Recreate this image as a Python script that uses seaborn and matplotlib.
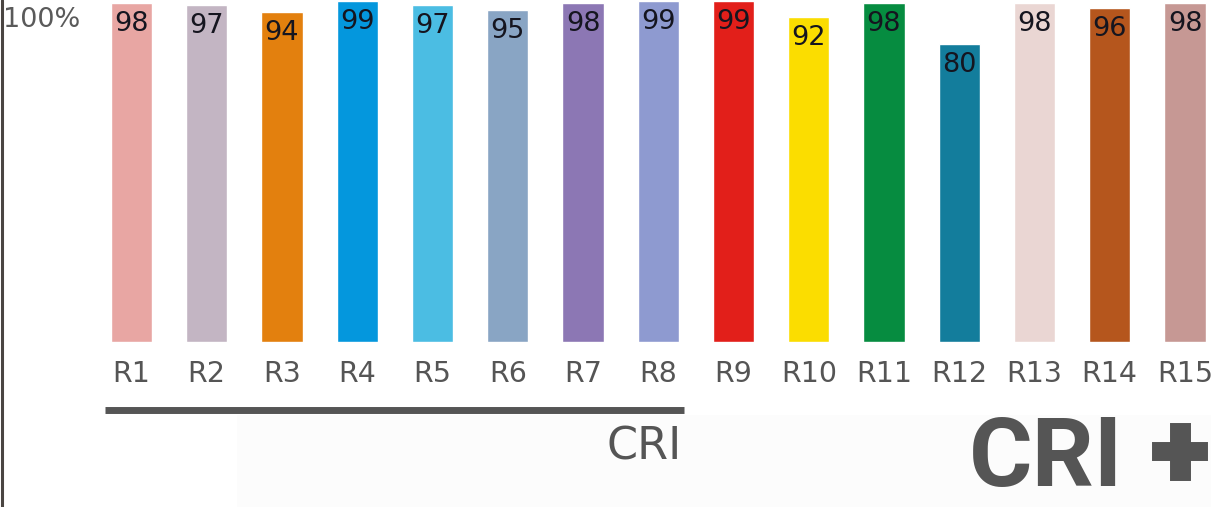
import numpy as np
import pandas as pd
import seaborn as sns
import matplotlib.pyplot as plt
import matplotlib.patheffects as pe
from matplotlib.lines import Line2D
from matplotlib.patches import Rectangle

# test colour samples R1..R15 and their colour rendering values
samples = ["R1", "R2", "R3", "R4", "R5", "R6", "R7", "R8",
           "R9", "R10", "R11", "R12", "R13", "R14", "R15"]
ri_values = [98, 97, 94, 99, 97, 95, 98, 99, 99, 92, 98, 80, 98, 96, 98]
bar_colors = ["#E8A6A3", "#C3B5C3", "#E3800E", "#0497DD", "#4BBDE3",
              "#89A5C4", "#8C77B4", "#8E9AD0", "#E21F1A", "#FBDD00",
              "#068C40", "#137D9C", "#EAD6D3", "#B5561D", "#C69894"]
cri_group = samples[:8]   # R1-R8 make up the classic CRI

df = pd.DataFrame({"sample": samples, "value": ri_values})

sns.set_style("white")
plt.rcParams['font.family'] = ['DejaVu Sans']

W, H = 1211, 507
fig = plt.figure(figsize=(W / 100, H / 100), dpi=100)
fig.patch.set_facecolor("white")

# very faint grey panel behind the lower part (from the source screenshot)
fig.patches.append(Rectangle((237 / W, 0), 1 - 237 / W, (H - 415) / H,
                             transform=fig.transFigure, facecolor="#fcfcfc",
                             edgecolor="none", zorder=0))

ax_bottom = 342
ax = fig.add_axes([0, (H - ax_bottom) / H, 1, ax_bottom / H])
ax.set_facecolor("none")

# bars start from the bottom of the (truncated) value axis
top = 99.3
base = top - ax_bottom / 2.3
sns.barplot(data=df, x="sample", y="value", hue="sample", palette=bar_colors,
            legend=False, width=0.545, saturation=1, ax=ax)
for p, v in zip(ax.patches, ri_values):
    p.set_y(base)
    p.set_height(v - base)

step = 75.25
ax.set_xlim(-131.5 / step, (W - 131.5) / step)
ax.set_ylim(base, top)

for s in ax.spines.values():
    s.set_visible(False)
ax.set_yticks([])
ax.set_xlabel("")
ax.set_ylabel("")
ax.tick_params(axis="x", length=0, pad=13, labelsize=20.5, labelcolor="#555555")

for i, v in enumerate(ri_values):
    ax.annotate(str(v), (i, v), xytext=(0, -8), textcoords="offset pixels",
                ha="center", va="top", fontsize=19.5, color="#15151f")

# underline spanning the CRI samples
first = samples.index(cri_group[0])
last = samples.index(cri_group[-1])
line = Line2D([first - 0.35, last + 0.34], [-0.199, -0.199],
              transform=ax.get_xaxis_transform(), color="#555555",
              linewidth=5, clip_on=False, solid_capstyle="butt")
ax.add_line(line)

fig.text(682 / W, 1 - 447 / H, "CRI", ha="right", va="center",
         fontsize=32, color="#555555")
fig.text(1123 / W, 1 - 460 / H, "CRI", ha="right", va="center",
         fontsize=70, fontweight="bold", color="#555555",
         family=["Roboto", "DejaVu Sans"])
fig.text(1180 / W, 1 - 457 / H, "+", ha="center", va="center",
         fontsize=72, fontweight="bold", color="#555555",
         family=["Roboto", "DejaVu Sans"],
         path_effects=[pe.withStroke(linewidth=5, foreground="#555555",
                                     joinstyle="miter")])

fig.text(3 / W, 1 - 20 / H, "100%", ha="left", va="center",
         fontsize=19.5, color="#5a5a5a")

# dark rule at the very left edge
fig.lines.append(Line2D([1.5 / W, 1.5 / W], [0, 1], transform=fig.transFigure,
                        color="#4a4542", linewidth=2.2))

fig.savefig("out.png", dpi=100)
